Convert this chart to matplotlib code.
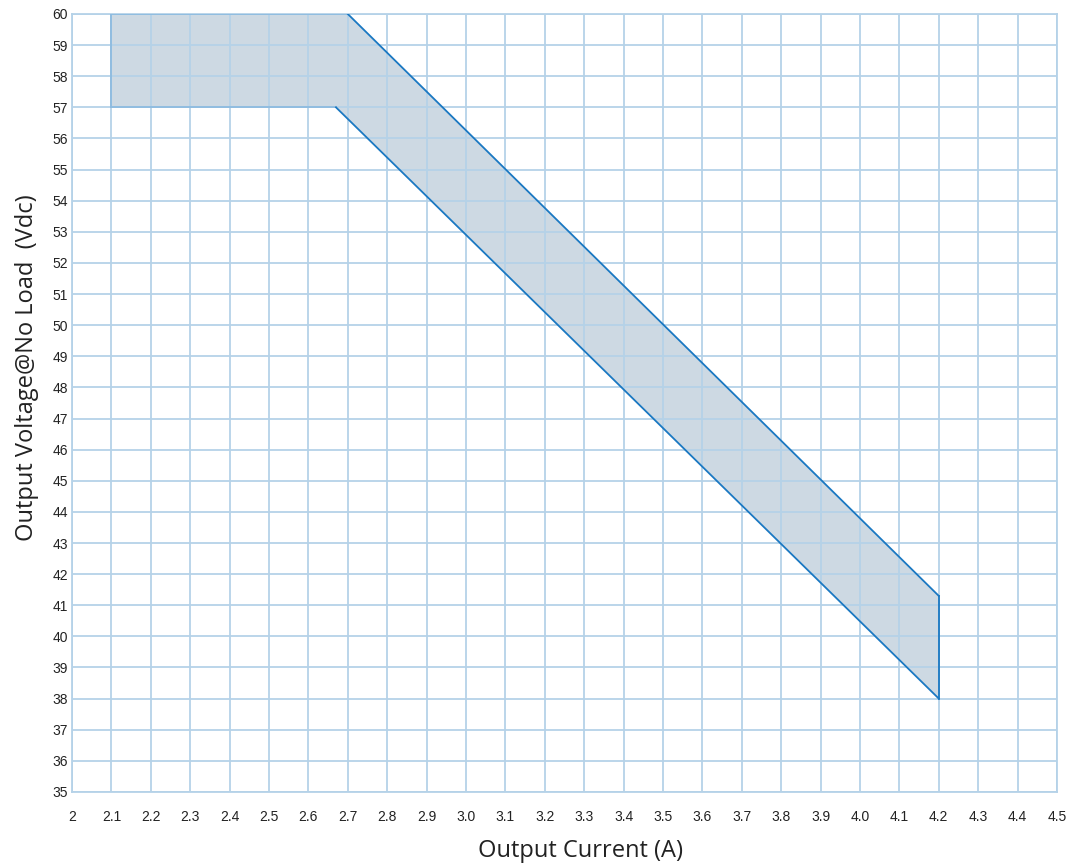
import matplotlib.pyplot as plt

plt.rcParams["font.family"] = ["Liberation Sans", "DejaVu Sans"]

# envelope of the adjustable region (A, Vdc)
upper_i = [2.1, 2.7, 4.2]
upper_v = [60.0, 60.0, 41.3]
lower_i = [2.1, 2.67, 4.2]
lower_v = [57.0, 57.0, 38.0]

x_ticks = [2.0 + 0.1 * k for k in range(26)]
x_labels = ["2", "2.1", "2.2", "2.3", "2.4", "2.5", "2.6", "2.7", "2.8", "2.9",
            "3.0", "3.1", "3.2", "3.3", "3.4", "3.5", "3.6", "3.7", "3.8", "3.9",
            "4.0", "4.1", "4.2", "4.3", "4.4", "4.5"]
y_ticks = list(range(35, 61))

grid_c = "#b5d2e8"
edge_c = "#1a78c2"
fill_c = "#cdd9e3"

W, H = 1073, 863
fig = plt.figure(figsize=(W / 100, H / 100), dpi=100)
ax = fig.add_axes([0.0671, 0.0823, 0.918, 0.9015])

poly_x = lower_i + upper_i[::-1]
poly_y = lower_v + upper_v[::-1]
ax.fill(poly_x, poly_y, facecolor=fill_c, edgecolor="none", zorder=1)

ax.set_xlim(2.0, 4.5)
ax.set_ylim(35, 60)
ax.set_xticks(x_ticks)
ax.set_xticklabels(x_labels)
ax.set_yticks(y_ticks)
ax.grid(True, color=grid_c, linewidth=1.3, zorder=2)
ax.set_axisbelow(False)

# flat edges (lighter) and sloped edges (darker)
ax.plot([upper_i[0], lower_i[0]], [upper_v[0], lower_v[0]], color="#8dbbe0", lw=1.3, zorder=3)
ax.plot(lower_i[:2], lower_v[:2], color="#8dbbe0", lw=1.3, zorder=3)
ax.plot(upper_i[:2], upper_v[:2], color="#8dbbe0", lw=1.3, zorder=3)
ax.plot(upper_i[1:], upper_v[1:], color=edge_c, lw=1.3, zorder=3)
ax.plot(lower_i[1:], lower_v[1:], color=edge_c, lw=1.3, zorder=3)
ax.plot([upper_i[-1], lower_i[-1]], [upper_v[-1], lower_v[-1]], color=edge_c, lw=1.3, zorder=3)

for s in ax.spines.values():
    s.set_color(grid_c)
    s.set_linewidth(1.3)

ax.tick_params(axis="both", length=0, labelsize=10, colors="#222222")
ax.tick_params(axis="x", pad=13)
ax.tick_params(axis="y", pad=3)

lab_font = ["Open Sans", "DejaVu Sans"]
fig.text(581 / W, 1 - 857 / H, "Output Current (A)", fontsize=17, color="#222222",
         ha="center", va="baseline", family=lab_font)
fig.text(33 / W, 1 - 367.5 / H, "Output Voltage@No Load  (Vdc)", fontsize=17,
         color="#222222", ha="center", va="baseline", rotation=90,
         rotation_mode="anchor", family=lab_font)

fig.savefig("out.png", dpi=100)
